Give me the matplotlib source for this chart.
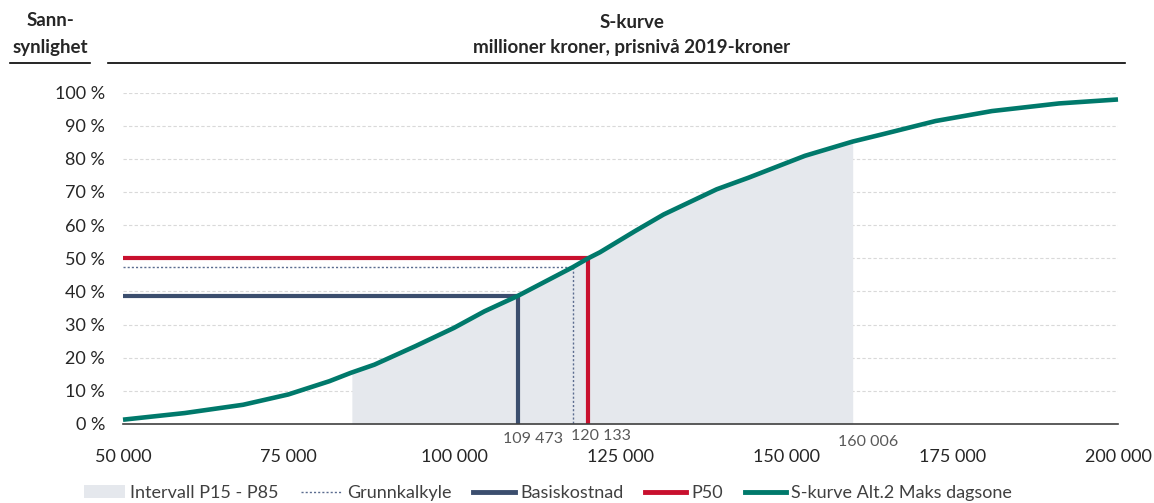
import matplotlib.pyplot as plt
import numpy as np
from matplotlib.lines import Line2D
from matplotlib.patches import Patch

plt.rcParams['font.family'] = ['Lato', 'DejaVu Sans']

# S-curve (million NOK, cumulative probability %)
cost = [50000, 59300, 68100, 74900, 81100, 84300, 87900, 94100, 99900, 104500,
        109473, 117800, 120133, 121900, 127200, 131500, 139500, 144300, 152800,
        160000, 164500, 172500, 181000, 191100, 200000]
prob = [1.3, 3.3, 5.8, 8.9, 12.9, 15.4, 17.9, 23.5, 29.0, 34.0,
        38.6, 47.3, 50.0, 51.8, 58.2, 63.2, 70.8, 74.3, 80.9,
        85.2, 87.4, 91.4, 94.4, 96.7, 97.9]

# key values
p15_x, p85_x = 84500, 160006
grunnkalkyle_x, grunnkalkyle_y = 117800, 47.3
basis_x, basis_y = 109473, 38.6
p50_x, p50_y = 120133, 50.0

x_ticks = [50000, 75000, 100000, 125000, 150000, 175000, 200000]
y_ticks = list(range(0, 101, 10))

teal = '#00796B'
red = '#C8102E'
navy = '#3B4E6E'
dotted = '#5B6C8F'
fill_col = '#E5E8ED'
text_col = '#262626'


def fmt(v):
    return f'{v:,}'.replace(',', ' ')


fig = plt.figure(figsize=(11.54, 5.03), dpi=100)
ax = fig.add_axes([123 / 1154, 1 - 424 / 503, (1118 - 123) / 1154, (424 - 92.5) / 503])

# shaded interval under the curve
xs = np.linspace(p15_x, p85_x, 200)
ax.fill_between(xs, 0, np.interp(xs, cost, prob), color=fill_col, lw=0, zorder=1)

# reference lines
ax.plot([50000, grunnkalkyle_x, grunnkalkyle_x], [grunnkalkyle_y, grunnkalkyle_y, 0],
        color=dotted, lw=1, ls=(0, (1.5, 1.5)), zorder=2)
ax.plot([50000, basis_x, basis_x], [basis_y, basis_y, 0], color=navy, lw=3, zorder=3)
ax.plot([50000, p50_x, p50_x], [p50_y, p50_y, 0], color=red, lw=3, zorder=3)

ax.plot(cost, prob, color=teal, lw=3.3, zorder=4, clip_on=False, solid_capstyle='butt')

ax.set_xlim(50000, 200000)
ax.set_ylim(0, 100)
ax.set_xticks(x_ticks)
ax.set_xticklabels([fmt(v) for v in x_ticks])
ax.set_yticks(y_ticks)
ax.set_yticklabels([f'{v} %' for v in y_ticks])
ax.tick_params(length=0, labelsize=13, colors=text_col)
ax.tick_params(axis='x', pad=18)
ax.tick_params(axis='y', pad=13)
ax.grid(axis='y', color='#D9D9D9', ls=(0, (3, 2)), lw=0.8)
ax.set_axisbelow(True)
for s in ['left', 'right', 'top']:
    ax.spines[s].set_visible(False)
ax.spines['bottom'].set_color('#404040')
ax.spines['bottom'].set_linewidth(1.2)
ax.spines['bottom'].set_zorder(5)

# value labels under the axis
lbl = dict(xycoords=('data', 'axes fraction'), textcoords='offset points',
           ha='center', va='center', fontsize=11.5, color='#595959')
ax.annotate(fmt(basis_x), (basis_x, 0), xytext=(11, -11), **lbl)
ax.annotate(fmt(p50_x), (p50_x, 0), xytext=(9, -9), **lbl)
ax.annotate(fmt(p85_x), (p85_x, 0), xytext=(11, -13), **lbl)

# header
hdr = dict(ha='center', va='center', fontsize=13.5, fontweight='bold', color=text_col)
fig.text(50 / 1154, 1 - 21 / 503, 'Sann-', **hdr)
fig.text(50 / 1154, 1 - 47 / 503, 'synlighet', **hdr)
fig.text(632 / 1154, 1 - 22 / 503, 'S-kurve', **hdr)
fig.text(632 / 1154, 1 - 48 / 503, 'millioner kroner, prisnivå 2019-kroner', **hdr)
fig.add_artist(Line2D([10 / 1154, 90 / 1154], [1 - 63 / 503] * 2, color='black', lw=1.2))
fig.add_artist(Line2D([108 / 1154, 1125 / 1154], [1 - 63 / 503] * 2, color='black', lw=1.2))

handles = [
    Patch(facecolor=fill_col, edgecolor='none', label='Intervall P15 - P85'),
    Line2D([], [], color=dotted, lw=1, ls=(0, (1.5, 1.5)), label='Grunnkalkyle'),
    Line2D([], [], color=navy, lw=3.5, label='Basiskostnad'),
    Line2D([], [], color=red, lw=3.5, label='P50'),
    Line2D([], [], color=teal, lw=3.5, label='S-kurve Alt.2 Maks dagsone'),
]
fig.legend(handles=handles, loc='center', bbox_to_anchor=(548 / 1154, 1 - 493 / 503), ncol=5,
           frameon=False, fontsize=13, handlelength=2.3, handletextpad=0.28, columnspacing=1.2,
           labelcolor='#404040')

fig.savefig('out.png', dpi=100)
